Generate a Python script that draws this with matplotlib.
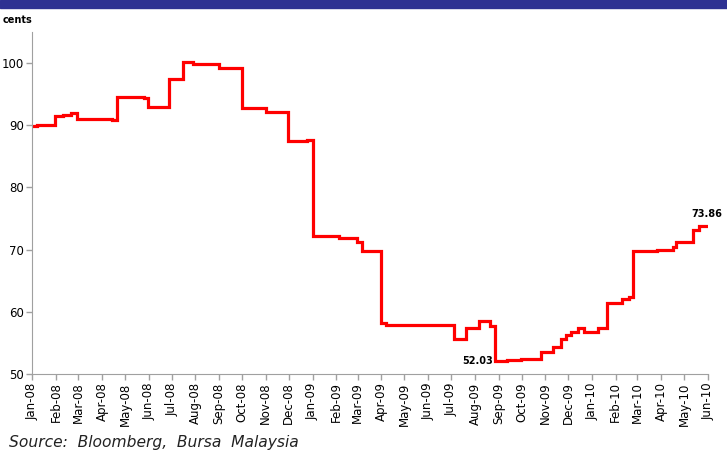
import pandas as pd
import matplotlib
matplotlib.use("Agg")
import matplotlib.pyplot as plt
import matplotlib.dates as mdates
from matplotlib.patches import Rectangle

# price in cents, step changes
dates = ['2008-01-01', '2008-01-07', '2008-01-27', '2008-01-31', '2008-02-10',
         '2008-02-21', '2008-02-28', '2008-04-14', '2008-04-21', '2008-05-26',
         '2008-05-31', '2008-06-28', '2008-07-16', '2008-07-29', '2008-09-01',
         '2008-10-01', '2008-10-22', '2008-11-01', '2008-11-11', '2008-11-30',
         '2008-12-25', '2009-01-01', '2009-02-04', '2009-02-28', '2009-03-06',
         '2009-03-14', '2009-04-01', '2009-04-07', '2009-05-25', '2009-07-05',
         '2009-07-20', '2009-08-06', '2009-08-21', '2009-08-27', '2009-09-12',
         '2009-09-30', '2009-10-26', '2009-11-11', '2009-11-21', '2009-11-28',
         '2009-12-04', '2009-12-13', '2009-12-21', '2010-01-09', '2010-01-21',
         '2010-02-09', '2010-02-18', '2010-02-24', '2010-03-27', '2010-04-16',
         '2010-04-20', '2010-05-13', '2010-05-20', '2010-06-01']
cents = [89.9, 90.1, 90.0, 91.5, 91.7,
         92.0, 91.0, 90.8, 94.6, 94.4,
         92.9, 97.5, 100.2, 99.9, 99.2,
         92.7, 92.8, 92.1, 92.2, 87.5,
         87.6, 72.2, 71.8, 71.3, 69.7,
         69.8, 58.25, 57.9, 57.95, 55.7,
         57.4, 58.5, 57.7, 52.03, 52.2,
         52.35, 53.5, 54.3, 55.7, 56.3,
         56.8, 57.45, 56.8, 57.45, 61.35,
         62.05, 62.4, 69.8, 70.0, 70.35,
         71.15, 73.15, 73.86, 73.86]

low_date, low_val = '2009-08-27', 52.03
last_date, last_val = '2010-06-01', 73.86

df = pd.DataFrame({'date': pd.to_datetime(dates), 'cents': cents})

fig = plt.figure(figsize=(7.27, 4.59), dpi=100)
fig.patches.append(Rectangle((0, 1 - 8 / 459), 1, 8 / 459, transform=fig.transFigure,
                             color='#2E3192', zorder=0))
ax = fig.add_axes([0.0444, 0.1852, 0.9291, 0.7451])

ax.plot(df['date'], df['cents'], drawstyle='steps-post', color='#FF0000', lw=2.3,
        solid_joinstyle='miter')

ax.set_ylim(50, 105)
ax.set_yticks([50, 60, 70, 80, 90, 100])
ax.set_xlim(pd.Timestamp('2008-01-01'), pd.Timestamp('2010-06-01'))
ax.xaxis.set_major_locator(mdates.MonthLocator())
ax.xaxis.set_major_formatter(mdates.DateFormatter('%b-%y'))
plt.setp(ax.get_xticklabels(), rotation=90)

for s in ['top', 'right']:
    ax.spines[s].set_visible(False)
for s in ['left', 'bottom']:
    ax.spines[s].set_color('#A0A0A0')
ax.tick_params(axis='both', colors='#A0A0A0', labelcolor='black', labelsize=8.5,
               length=4, width=1, pad=2)

ax.annotate(f'{low_val:.2f}', (pd.Timestamp(low_date), low_val), xytext=(-1, 0),
            textcoords='offset points', ha='right', va='center', fontsize=7,
            fontweight='bold')
ax.annotate(f'{last_val:.2f}', (pd.Timestamp(last_date), last_val), xytext=(-1, 5),
            textcoords='offset points', ha='center', va='bottom', fontsize=7,
            fontweight='bold')

fig.text(0.003, 1 - 20 / 459, 'cents', fontsize=7, fontweight='bold', va='center')
fig.text(0.012, 1 - 443 / 459, 'Source:  Bloomberg,  Bursa  Malaysia', fontsize=11.2,
         style='italic', color='#222222', va='center')

fig.savefig('out.png', dpi=100)
